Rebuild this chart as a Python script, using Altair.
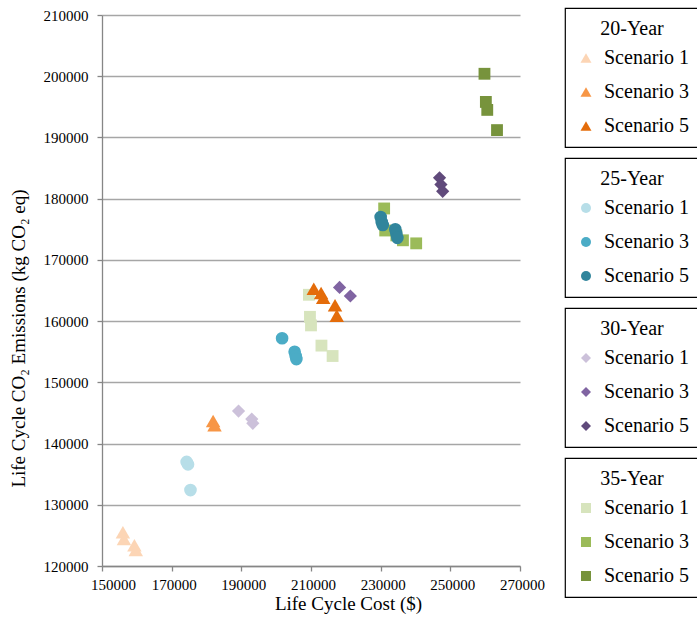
import altair as alt
import pandas as pd

# Life cycle cost ($) and CO2 emissions (kg CO2 eq) per design period and scenario
periods = ["20-Year", "25-Year", "30-Year", "35-Year"]
scenarios = ["Scenario 1", "Scenario 3", "Scenario 5"]

cost_20 = {
    "Scenario 1": [156000, 156300, 159300, 159700],
    "Scenario 3": [181900, 182300],
    "Scenario 5": [210800, 212900, 213500, 216900, 217400],
}
co2_20 = {
    "Scenario 1": [125500, 124400, 123400, 122600],
    "Scenario 3": [143700, 143000],
    "Scenario 5": [165300, 164600, 163800, 162600, 160900],
}
cost_25 = {
    "Scenario 1": [174300, 174700, 175400],
    "Scenario 3": [201700, 205300, 205600, 205800],
    "Scenario 5": [230000, 230300, 230600, 234200, 234500, 234800],
}
co2_25 = {
    "Scenario 1": [137000, 136600, 132400],
    "Scenario 3": [157200, 155000, 154300, 153800],
    "Scenario 5": [177000, 176200, 175700, 175000, 174300, 173600],
}
cost_30 = {
    "Scenario 1": [189200, 193000, 193300],
    "Scenario 3": [218200, 221300],
    "Scenario 5": [246900, 247300, 247800],
}
co2_30 = {
    "Scenario 1": [145300, 144000, 143300],
    "Scenario 3": [165500, 164100],
    "Scenario 5": [183400, 182300, 181200],
}
cost_35 = {
    "Scenario 1": [209400, 209700, 210000, 213000, 216200],
    "Scenario 3": [231000, 231300, 234500, 236400, 240200],
    "Scenario 5": [259800, 260200, 260600, 263400],
}
co2_35 = {
    "Scenario 1": [164300, 160700, 159300, 156000, 154300],
    "Scenario 3": [178400, 174800, 174000, 173200, 172700],
    "Scenario 5": [200400, 195800, 194500, 191200],
}

x_ticks = [150000, 170000, 190000, 210000, 230000, 250000, 270000]
y_ticks = [120000, 130000, 140000, 150000, 160000, 170000, 180000, 190000, 200000, 210000]

costs = {"20-Year": cost_20, "25-Year": cost_25, "30-Year": cost_30, "35-Year": cost_35}
co2s = {"20-Year": co2_20, "25-Year": co2_25, "30-Year": co2_30, "35-Year": co2_35}

rows = []
for p in periods:
    for s in scenarios:
        for c, e in zip(costs[p][s], co2s[p][s]):
            rows.append({"period": p, "scenario": s, "cost": c, "co2": e})
df = pd.DataFrame(rows)

palettes = {
    "20-Year": ["#FCD5B5", "#F79646", "#E46C0A"],
    "25-Year": ["#B7DEE8", "#4BACC6", "#31859C"],
    "30-Year": ["#CCC1DA", "#8064A2", "#604A7B"],
    "35-Year": ["#D7E4BD", "#9BBB59", "#77933C"],
}
shapes = {"20-Year": "triangle-up", "25-Year": "circle", "30-Year": "diamond", "35-Year": "square"}
sizes = {"20-Year": 210, "25-Year": 160, "30-Year": 175, "35-Year": 140}
legend_sym = {"20-Year": 120, "25-Year": 100, "30-Year": 100, "35-Year": 100}
legend_y = {"20-Year": -7, "25-Year": 143, "30-Year": 293, "35-Year": 443}

FONT = "Liberation Serif"

x_enc = alt.X(
    "cost:Q",
    scale=alt.Scale(domain=[150000, 270000], nice=False),
    axis=alt.Axis(
        title="Life Cycle Cost ($)", values=x_ticks, format="d", grid=False,
        labelFont=FONT, labelFlush=False,
        labelOffset={"condition": {"test": "datum.value == 150000", "value": 11}, "value": 2},
        titleFont=FONT, titleX=246, titleY=37, titleBaseline="middle",
    ),
)
y_enc = alt.Y(
    "co2:Q",
    scale=alt.Scale(domain=[120000, 210000], nice=False),
    axis=alt.Axis(
        title="Life Cycle CO\u2082 Emissions (kg CO\u2082 eq)", values=y_ticks, format="d",
        labelFont=FONT, titleFont=FONT,
        titleX=-84, titleY=323, titleBaseline="middle", titleAngle=-90,
    ),
)


def period_layer(p):
    return (
        alt.Chart(df[df["period"] == p])
        .mark_point(filled=True, shape=shapes[p], size=sizes[p], opacity=1, strokeWidth=0)
        .encode(
            x=x_enc,
            y=y_enc,
            color=alt.Color(
                "scenario:N",
                scale=alt.Scale(domain=scenarios, range=palettes[p]),
                legend=alt.Legend(
                    title=p, orient="none", legendX=463, legendY=legend_y[p],
                    symbolType=shapes[p], symbolSize=legend_sym[p],
                    labelFont=FONT, titleFont=FONT,
                ),
            ),
        )
    )


chart = (
    alt.layer(*[period_layer(p) for p in ["35-Year", "30-Year", "25-Year", "20-Year"]])
    .resolve_scale(color="independent")
    .properties(
        width=418, height=551,
        padding={"left": 102, "top": 15, "right": 177, "bottom": 53},
        autosize=alt.AutoSizeParams(type="none"),
        background="white",
    )
    .configure_view(stroke=None)
    .configure_axis(
        labelFont=FONT, labelFontSize=15, labelColor="black",
        titleFont=FONT, titleFontSize=19, titleColor="black", titleFontWeight="normal",
        domainColor="#868686", domainWidth=1.3,
        tickColor="#868686", tickWidth=1.3, tickSize=5,
        gridColor="#A6A6A6", gridWidth=1.3,
    )
    .configure_axisX(labelPadding=6)
    .configure_axisY(labelPadding=9)
    .configure_legend(
        strokeColor="black", strokeWidth=1.2, fillColor="white", padding=11, cornerRadius=0,
        titleFont=FONT, titleFontSize=20, titleFontWeight="normal", titleColor="black",
        titleAnchor="middle", titlePadding=9,
        labelFont=FONT, labelFontSize=20, labelColor="black", labelOffset=8,
        rowPadding=14, symbolStrokeWidth=0,
    )
)

chart.save("out.html", embed_options={"renderer": "svg", "actions": False})
